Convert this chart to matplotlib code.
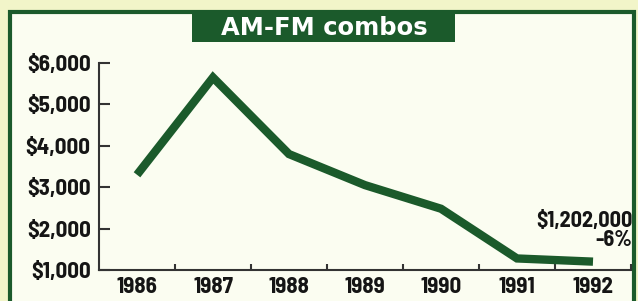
import matplotlib.pyplot as plt
from matplotlib.patches import Rectangle
import numpy as np

# AM-FM combos, average price (thousands of dollars)
years = ['1986', '1987', '1988', '1989', '1990', '1991', '1992']
prices = [3300, 5650, 3800, 3050, 2480, 1279, 1202]
yticks = [1000, 2000, 3000, 4000, 5000, 6000]
ylabels = ['$1,000', '$2,000', '$3,000', '$4,000', '$5,000', '$6,000']
title = 'AM-FM combos'
note = '$1,202,000\n-6%'

green = '#1b5a2b'
narrow = ['Barlow Semi Condensed', 'Liberation Sans Narrow', 'DejaVu Sans']

fig = plt.figure(figsize=(6.38, 3.01), dpi=100)
fig.patch.set_facecolor('#f2f5c9')

# panel + frame
fig.patches.append(Rectangle((10/638, -0.05), 624/638, 1.05 - 12/301,
                             transform=fig.transFigure, facecolor='#fbfdf1',
                             edgecolor=green, linewidth=3, zorder=-2))
fig.patches.append(Rectangle((192/638, 1 - 42/301), 263/638, 29/301,
                             transform=fig.transFigure, facecolor=green,
                             edgecolor='none', zorder=-1))
fig.text(324/638, 1 - 28/301, title, color='white', fontsize=17.5,
         fontweight='bold', ha='center', va='center', family='DejaVu Sans')

ax = fig.add_axes([99/638, 1 - 270/301, 532/638, 207/301])
ax.patch.set_alpha(0)
x = np.arange(len(years)) + 0.5
ax.plot(x, prices, color=green, linewidth=6, solid_joinstyle='miter',
        solid_capstyle='butt')

ax.set_xlim(0, 7)
ax.set_ylim(1000, 6000)
ax.spines['top'].set_visible(False)
ax.spines['right'].set_visible(False)
for s in ['left', 'bottom']:
    ax.spines[s].set_color('#333333')
    ax.spines[s].set_linewidth(1.5)

ax.set_yticks(yticks)
ax.set_yticklabels(ylabels, family=narrow, fontweight='bold', fontsize=16.5,
                   color='#151515')
ax.tick_params(axis='y', direction='in', length=8, width=1.5, color='#333333', pad=6)

ax.set_xticks(x)
ax.set_xticklabels(years, family=narrow, fontweight='bold', fontsize=16.5,
                   color='#151515')
ax.tick_params(axis='x', length=0, pad=5)
ax.set_xticks(np.arange(1, 8), minor=True)
ax.tick_params(axis='x', which='minor', direction='in', length=4, width=1.5,
               color='#333333')

ax.text(7.02, 1950, note, ha='right', va='center', family=narrow,
        fontweight='bold', fontsize=16, linespacing=0.95, color='#151515')

plt.savefig('out.png', dpi=100, facecolor=fig.get_facecolor())
